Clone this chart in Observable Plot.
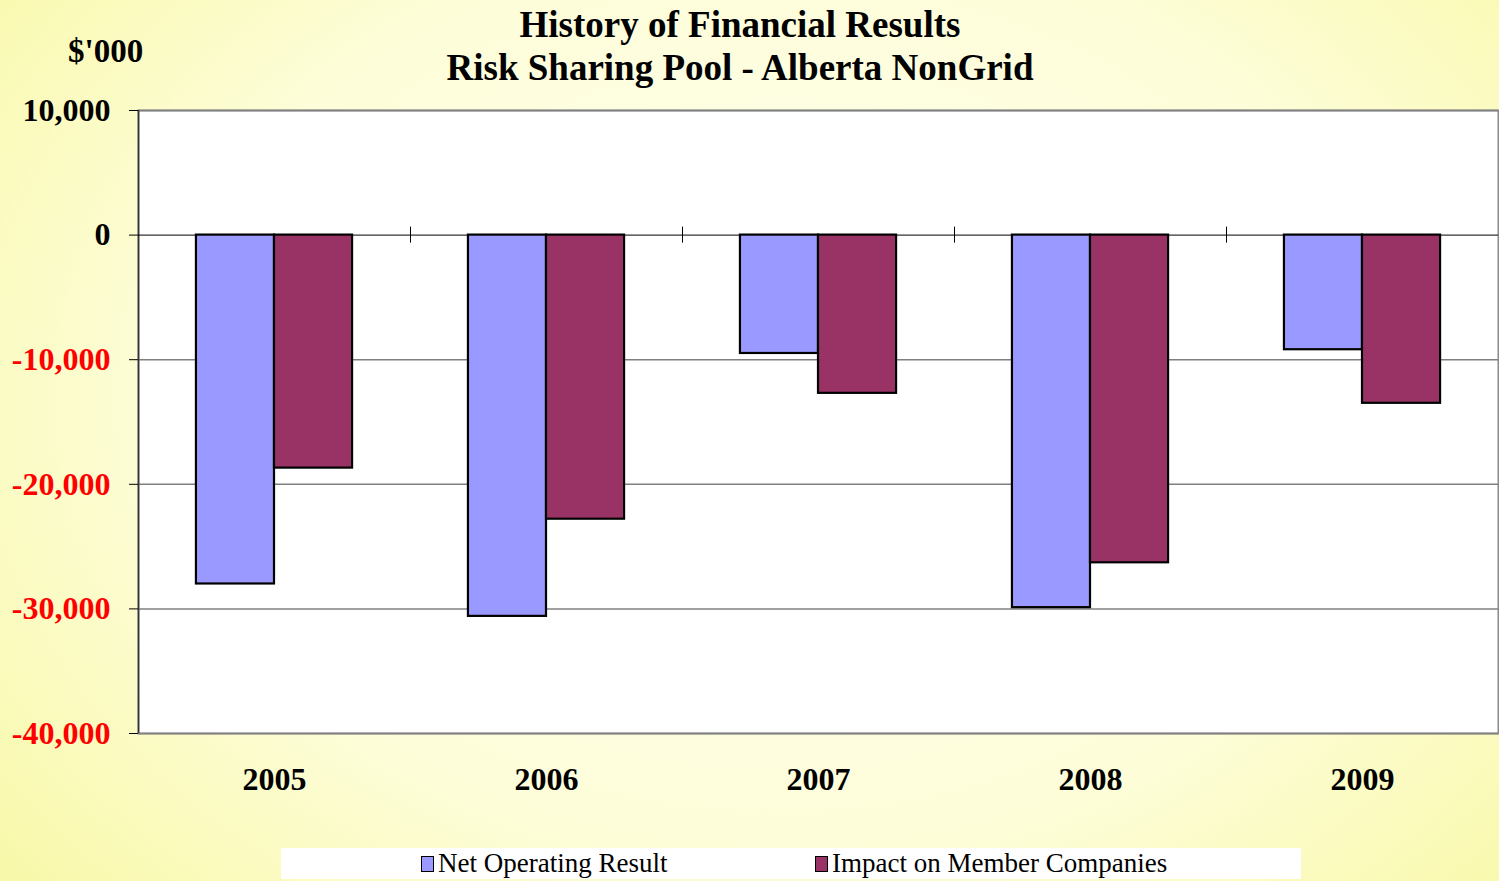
<!DOCTYPE html>
<html>
<head>
<meta charset="utf-8">
<script src="https://cdn.jsdelivr.net/npm/d3@7"></script>
<script src="https://cdn.jsdelivr.net/npm/@observablehq/plot@0.6"></script>
<style>
  html, body { margin: 0; padding: 0; }
  #page {
    position: relative; width: 1499px; height: 881px; overflow: hidden;
    background: radial-gradient(ellipse 75% 95% at 52% 45%, #fffff2 0%, #fdfdd8 55%, #f9f9b0 85%, #f6f69c 100%);
    font-family: "Liberation Serif", "Times New Roman", serif;
  }
  #chart { position: absolute; left: 0; top: 0; }
  .title { position: absolute; left: 0; width: 1480px; text-align: center; font-weight: bold; font-size: 37px; color: #000; line-height: 1; }
  #unit { position: absolute; left: 68px; top: 35px; font-weight: bold; font-size: 33px; line-height: 1; }
  #legend { position: absolute; left: 281px; top: 848px; width: 1020px; height: 31px; background: #fff; font-size: 27px; }
  .item { position: absolute; top: 0px; display: flex; align-items: center; white-space: nowrap; }
  .sw { display: inline-block; width: 11px; height: 14px; border: 1.5px solid #000; margin-right: 4px; }
</style>
</head>
<body>
<div id="page">
  <div id="chart"></div>
  <div class="title" style="top:6px">History of Financial Results</div>
  <div class="title" style="top:49px">Risk Sharing Pool - Alberta NonGrid</div>
  <div id="unit">$'000</div>
  <div id="legend"></div>
</div>
<script>
const years = ["2005", "2006", "2007", "2008", "2009"];
const netOperating = [-28000, -30600, -9500, -29900, -9200];
const impactMembers = [-18700, -22800, -12700, -26300, -13500];
const series = ["Net Operating Result", "Impact on Member Companies"];
const colors = ["#9999ff", "#993366"];
const yTicks = [10000, 0, -10000, -20000, -30000, -40000];

const barW = 0.287;
const rows = [];
years.forEach((yr, i) => {
  rows.push({i, year: yr, series: series[0], value: netOperating[i], x1: i + 0.5 - barW, x2: i + 0.5});
  rows.push({i, year: yr, series: series[1], value: impactMembers[i], x1: i + 0.5, x2: i + 0.5 + barW});
});
const edges = d3.range(1, years.length);
const fmt = d => d.toLocaleString("en-US");

const chart = Plot.plot({
  width: 1499,
  height: 881,
  marginLeft: 138,
  marginRight: 1,
  marginTop: 110,
  marginBottom: 148,
  style: {background: "transparent", fontFamily: "'Liberation Serif', 'Times New Roman', serif"},
  x: {domain: [0, years.length], axis: null},
  y: {domain: [-40000, 10000], axis: null},
  color: {domain: series, range: colors},
  marks: [
    Plot.frame({fill: "white", stroke: "#8a8a8a", strokeWidth: 2}),
    Plot.ruleY(yTicks.filter(d => d !== 0), {stroke: "#808080", strokeWidth: 1.5}),
    Plot.ruleX([0], {stroke: "#333", strokeWidth: 1.5}),
    Plot.ruleY([0], {stroke: "#000", strokeWidth: 1}),
    Plot.ruleX(edges, {y1: 0, y2: 0, insetTop: -8, insetBottom: -8, stroke: "#000", strokeWidth: 1}),
    Plot.rectY(rows, {x1: "x1", x2: "x2", y1: 0, y2: "value", fill: "series", stroke: "#000", strokeWidth: 2.2}),
    Plot.axisY(yTicks.filter(d => d >= 0), {tickSize: 9, tickPadding: 19, tickFormat: fmt, fill: "#000", stroke: "#000", fontSize: 32, fontWeight: "bold", label: null}),
    Plot.axisY(yTicks.filter(d => d < 0), {tickSize: 9, tickPadding: 19, tickFormat: fmt, fill: "#ff0000", stroke: "#000", fontSize: 32, fontWeight: "bold", label: null}),
    Plot.axisX(years.map((_, i) => i + 0.5), {tickSize: 0, tickPadding: 34, tickFormat: d => years[Math.round(d - 0.5)], fontSize: 32, fontWeight: "bold", fill: "#000", label: null})
  ]
});
document.getElementById("chart").appendChild(chart);

const legend = document.getElementById("legend");
const lefts = [140, 534];
series.forEach((s, k) => {
  const it = document.createElement("div");
  it.className = "item";
  it.style.left = lefts[k] + "px";
  it.innerHTML = `<span class="sw" style="background:${colors[k]}"></span><span>${s}</span>`;
  legend.appendChild(it);
});
</script>
</body>
</html>
